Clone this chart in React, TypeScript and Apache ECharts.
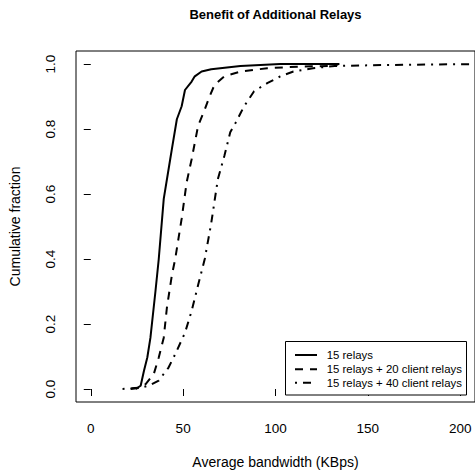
import React, { useEffect, useRef } from "react";
import * as echarts from "echarts";

const seriesNames = [
  "15 relays",
  "15 relays + 20 client relays",
  "15 relays + 40 client relays",
];

const relays15: [number, number][] = [
  [24.3, 0], [27, 0.01], [28.8, 0.056], [30.6, 0.097], [32.3, 0.158], [35, 0.3],
  [36.8, 0.4], [39.5, 0.585], [43, 0.707], [43.9, 0.738], [46.6, 0.83], [49.2, 0.87],
  [51, 0.92], [54.6, 0.946], [56.3, 0.962], [60, 0.977], [65.2, 0.984], [81, 0.994],
  [102.6, 1.0], [134.6, 1.0],
];

const relays20: [number, number][] = [
  [21.6, 0], [26, 0.003], [29.7, 0.015], [34.1, 0.046], [36.8, 0.097], [39.5, 0.158],
  [41.2, 0.25], [43.9, 0.35], [45.7, 0.4], [49.2, 0.524], [51.9, 0.636], [54.6, 0.707],
  [58.1, 0.81], [61.7, 0.86], [64.3, 0.9], [67, 0.936], [72.3, 0.962], [81.3, 0.977],
  [95.5, 0.987], [113, 0.992], [132, 0.994], [134, 1.0],
];

const relays40: [number, number][] = [
  [17.2, 0], [22, 0.002], [27.9, 0.005], [32, 0.012], [36.8, 0.026], [42.1, 0.066],
  [45.7, 0.107], [51, 0.173], [54.6, 0.24], [58.1, 0.32], [61.7, 0.4], [65.2, 0.51],
  [68.8, 0.646], [72.3, 0.717], [75.5, 0.79], [78.5, 0.82], [81.2, 0.85], [83, 0.87],
  [88.4, 0.916], [95.5, 0.941], [102.6, 0.962], [109.7, 0.977], [120.3, 0.987],
  [132, 0.994], [160, 0.997], [212, 1.0],
];

const xTicks = [0, 50, 100, 150, 200];
const yTicks = [0, 0.2, 0.4, 0.6, 0.8, 1.0];

const FONT = "Liberation Sans, Arial, Helvetica, sans-serif";

export default function App() {
  const ref = useRef<HTMLDivElement>(null);
  useEffect(() => {
    if (!ref.current) return;
    const chart = echarts.init(ref.current, null, { renderer: "svg" });
    const dashes = [null, [8, 7], [2, 6, 8, 6]];
    const allData = [relays15, relays20, relays40];
    const legendRows = [355, 369.3, 382.7];
    const legendGraphics: any[] = [
      {
        type: "rect",
        shape: { x: 285.5, y: 341.5, width: 181, height: 53.5 },
        style: { fill: "#fff", stroke: "#000", lineWidth: 1 },
        z: 10,
      },
    ];
    seriesNames.forEach((n, i) => {
      legendGraphics.push({
        type: "line",
        shape: { x1: 295, y1: legendRows[i], x2: 317, y2: legendRows[i] },
        style: { stroke: "#000", lineWidth: 2, lineDash: dashes[i] || undefined },
        z: 11,
      });
      legendGraphics.push({
        type: "text",
        x: 326.7,
        y: legendRows[i],
        style: {
          text: n,
          fill: "#000",
          font: `11.4px ${FONT}`,
          textVerticalAlign: "middle",
          verticalAlign: "middle",
        },
        z: 11,
      });
    });
    chart.setOption({
      animation: false,
      backgroundColor: "#fff",
      title: {
        text: "Benefit of Additional Relays",
        left: 275.5,
        top: 8,
        textAlign: "center",
        padding: 0,
        textStyle: { fontFamily: FONT, fontWeight: "bold", fontSize: 13, color: "#000" },
      },
      grid: {
        left: 73,
        top: 51,
        right: -3,
        bottom: 70,
        show: true,
        borderColor: "#000",
        borderWidth: 1,
        containLabel: false,
      },
      xAxis: {
        type: "value",
        min: -8,
        max: 208,
        name: "Average bandwidth (KBps)",
        nameLocation: "middle",
        nameGap: 53,
        nameTextStyle: { fontFamily: FONT, fontSize: 14, color: "#000" },
        axisLine: { show: false },
        splitLine: { show: false },
        axisTick: { show: true, length: 7, customValues: xTicks, lineStyle: { color: "#000" } },
        axisLabel: {
          customValues: xTicks,
          margin: 19,
          fontFamily: FONT,
          fontSize: 13.5,
          color: "#000",
          showMinLabel: true,
          showMaxLabel: true,
        },
      },
      yAxis: {
        type: "value",
        min: -0.04,
        max: 1.04,
        name: "Cumulative fraction",
        nameLocation: "middle",
        nameGap: 54,
        nameRotate: 90,
        nameTextStyle: { fontFamily: FONT, fontSize: 14, color: "#000" },
        axisLine: { show: false },
        splitLine: { show: false },
        axisTick: { show: true, length: 7, customValues: yTicks, lineStyle: { color: "#000" } },
        axisLabel: {
          customValues: yTicks,
          rotate: 90,
          margin: 19,
          fontFamily: FONT,
          fontSize: 13.5,
          color: "#000",
          formatter: (v: number) => v.toFixed(1),
        },
      },
      series: allData.map((d, i) => ({
        name: seriesNames[i],
        type: "line",
        data: d,
        showSymbol: false,
        symbol: "none",
        lineStyle: { color: "#000", width: 2, type: dashes[i] ? dashes[i] : "solid" },
        z: 3 - i,
      })),
      graphic: legendGraphics,
    });
    return () => chart.dispose();
  }, []);
  return (
    <div
      ref={ref}
      style={{ position: "absolute", left: 0, top: 0, width: 475, height: 474 }}
    />
  );
}
